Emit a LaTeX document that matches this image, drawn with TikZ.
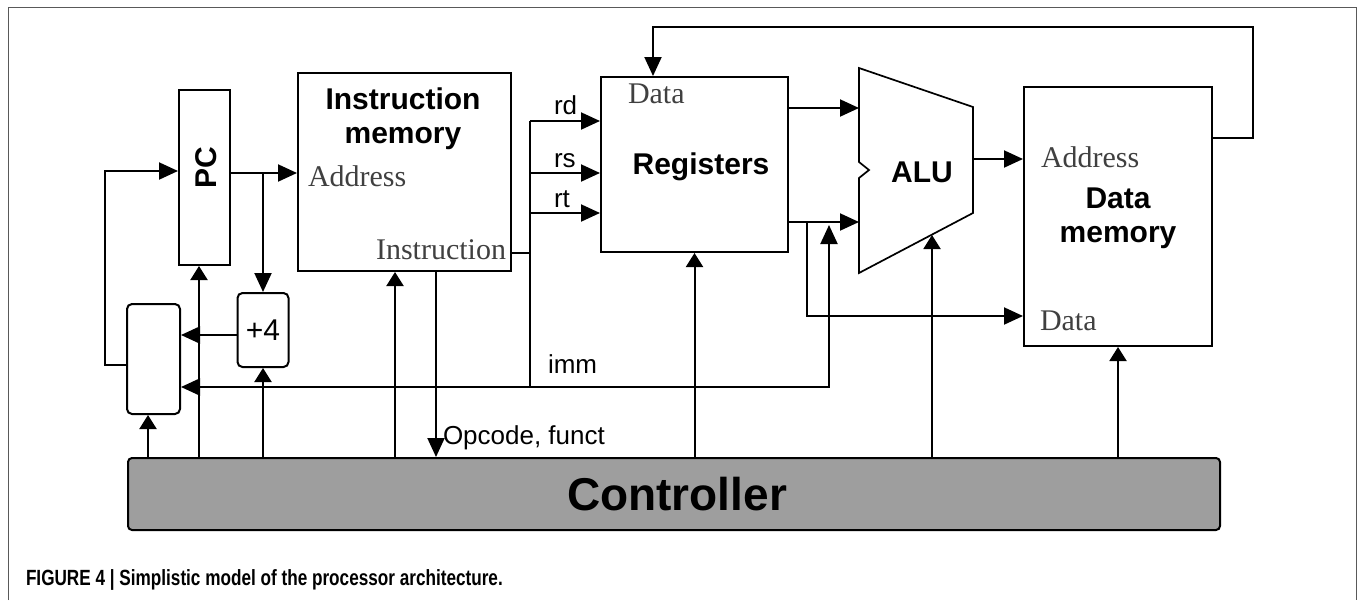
\documentclass[tikz,border=0pt]{standalone}
\usepackage{fontspec}
\setmainfont{Liberation Serif}
\setsansfont{Liberation Sans}
\newfontfamily\capfont[FakeStretch=0.78]{Liberation Sans}
\usetikzlibrary{arrows.meta,calc}
\begin{document}
\begin{tikzpicture}[x=1pt,y=-1pt, line width=2pt,
 box/.style={draw, line width=2pt, inner sep=0pt, fill=white},
 rbox/.style={box, rounded corners=5pt},
 arr/.style={-{Triangle[length=19pt,width=17pt]}},
 carr/.style={-{Triangle[length=14pt,width=17pt]}},
 title/.style={font=\sffamily\bfseries\fontsize{30}{34}\selectfont, align=center, inner sep=0pt},
 slab/.style={font=\rmfamily\fontsize{30}{33}\selectfont, text=black!75, inner sep=0pt},
 lab/.style={font=\sffamily\fontsize{26}{30}\selectfont, inner sep=0pt},
]
\useasboundingbox (0,0) rectangle (1360,600);
\draw[line width=1pt, black!65] (8,600) -- (8,7) -- (1356,7) -- (1356,600);

% blocks
\node[box, minimum width=51, minimum height=175] (PC) at (204.5,177.5) {};
\node[title, rotate=90] (pclab) at (206,168) {PC};
\node[box, minimum width=213, minimum height=198] (IM) at (404.5,172) {};
\node[title] (imlab) at (403,118.5) {Instruction\\memory};
\node[slab, anchor=west] (imaddr) at (307,176) {Address};
\node[slab, anchor=east] (iminstr) at (507,250) {Instruction};
\node[box, minimum width=187, minimum height=175] (Reg) at (694.5,164.5) {};
\node[title] (reglab) at (701,167) {Registers};
\node[slab, anchor=west] (regdata) at (627,94) {Data};
\node[box, minimum width=188, minimum height=259] (DM) at (1118,216.5) {};
\node[title] (dmlab) at (1118,218.5) {Data\\memory};
\node[slab, anchor=west] (dmaddr) at (1040,157) {Address};
\node[slab, anchor=west] (dmdata) at (1039,321) {Data};
\node[rbox, minimum width=53, minimum height=110] (Mux) at (153.5,359) {};
\node[rbox, minimum width=51, minimum height=74, font=\sffamily\fontsize{30}{30}\selectfont] (P4) at (263,330) {+4};
\node[box, fill=black!38, rounded corners=4pt, minimum width=1092, minimum height=72] (Ctl) at (674,494) {};
\node[font=\sffamily\bfseries\fontsize{46}{46}\selectfont] (ctllab) at (677,494) {Controller};

% ALU
\draw[line width=1.7pt] (859,68) -- (973,107) -- (973,213) -- (859,273) -- (859,178) -- (869,170) -- (859,162) -- cycle;
\node[title] (alulab) at (922,172) {ALU};

% labels
\node[lab, anchor=base west] (rd) at (553,114) {rd};
\node[lab, anchor=base west] (rs) at (553,167) {rs};
\node[lab, anchor=base west] (rt) at (553,207) {rt};
\node[lab, anchor=base west] (imm) at (547,373) {imm};
\node[lab, anchor=base west] (opc) at (442,444) {Opcode, funct};

% coordinates
\coordinate (pcy) at (0,173);
\coordinate (j1) at (263,173);
\coordinate (lp) at (105,365);
\coordinate (ly) at (0,171);
\coordinate (p4y) at (0,335);
\coordinate (bt) at (530,121);
\coordinate (bs) at (530,173);
\coordinate (brt) at (530,213);
\coordinate (bb) at (530,387);
\coordinate (iy) at (0,253);
\coordinate (ib) at (829,387);
\coordinate (it) at (829,225);
\coordinate (fbx) at (653,27);
\coordinate (fbr) at (1253,27);
\coordinate (fby) at (0,138);
\coordinate (o1) at (0,108);
\coordinate (o2) at (0,222);
\coordinate (alux) at (859,0);
\coordinate (j2) at (807,222);
\coordinate (dy) at (0,316);
\coordinate (ao) at (973,159);
\coordinate (mx) at (148,0);
\coordinate (px) at (199,0);
\coordinate (ix) at (395,0);
\coordinate (ox) at (436,0);
\coordinate (ac) at (932,235);

% datapath
\draw[arr] (PC.east |- pcy) -- (IM.west |- pcy);
\draw[arr] (j1) -- (P4.north);
\draw[arr] (Mux.west |- lp) -- (lp) |- (PC.west |- ly);
\draw[arr] (P4.west |- p4y) -- (Mux.east |- p4y);
\draw (bt) -- (bb);
\draw (IM.east |- iy) -- (bt |- iy);
\draw[arr] (bt) -- (Reg.west |- bt);
\draw[arr] (bs) -- (Reg.west |- bs);
\draw[arr] (brt) -- (Reg.west |- brt);
\draw[arr] (ib) -- (Mux.east |- ib);
\draw[arr] (bb) -- (ib) -- (it);
\draw[arr] (DM.east |- fby) -- (fbr |- fby) -- (fbr) -- (fbx) -- (Reg.north -| fbx);
\draw[arr] (Reg.east |- o1) -- (alux |- o1);
\draw[arr] (Reg.east |- o2) -- (alux |- o2);
\draw[arr] (j2) |- (DM.west |- dy);
\draw[arr] (ao) -- (DM.west |- ao);

% control
\draw[carr] (Ctl.north -| mx) -- (Mux.south -| mx);
\draw[carr] (Ctl.north -| px) -- (PC.south -| px);
\draw[carr] (Ctl.north -| P4.south) -- (P4.south);
\draw[carr] (Ctl.north -| ix) -- (IM.south -| ix);
\draw[arr] (IM.south -| ox) -- (Ctl.north -| ox);
\draw[carr] (Ctl.north -| Reg.south) -- (Reg.south);
\draw[carr] (Ctl.north -| ac) -- (ac);
\draw[carr] (Ctl.north -| DM.south) -- (DM.south);

% caption
\node[anchor=base west, inner sep=0pt, font=\capfont\bfseries\fontsize{22}{24}\selectfont] (cap) at (25,585) {FIGURE 4 | Simplistic model of the processor architecture.};
\end{tikzpicture}
\end{document}
